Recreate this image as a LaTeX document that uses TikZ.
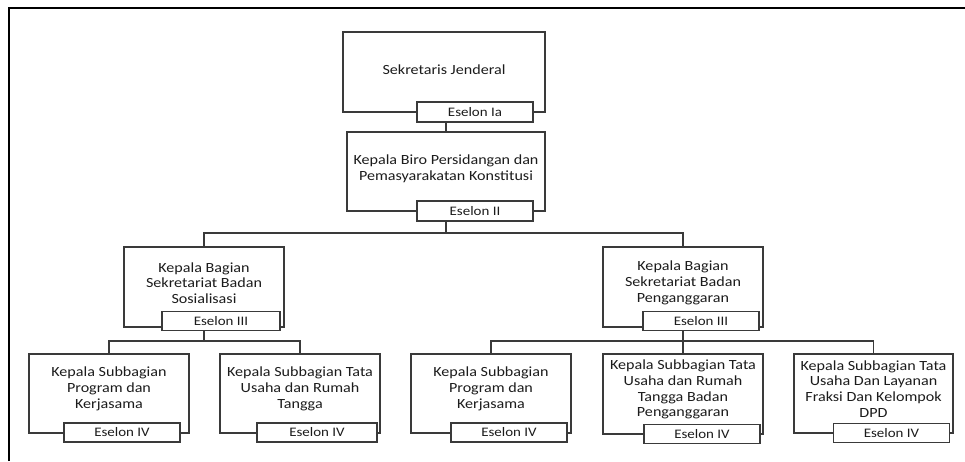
\documentclass[tikz,border=0pt]{standalone}
\usepackage{fontspec}
\setmainfont{Carlito}[FakeStretch=1.15]
\definecolor{linegray}{HTML}{3A3A3A}
\definecolor{textgray}{HTML}{1C1C1C}

\tikzset{
  orgbox/.style={draw=linegray, line width=1.1pt, minimum width=160pt,
    minimum height=80pt, inner sep=0pt},
  orgtext/.style={align=center, text=textgray, inner sep=0pt,
    font=\fontsize{14}{15.8}\selectfont},
  eselon/.style={draw=linegray, line width=1.1pt, fill=white,
    minimum width=116pt, minimum height=19pt, inner sep=0pt,
    text=textgray, font=\fontsize{13}{14}\selectfont},
  wire/.style={draw=linegray, line width=1.1pt},
}

\begin{document}
\begin{tikzpicture}[x=1pt, y=-1pt]
  \useasboundingbox[fill=white] (0,0) rectangle (965,461);

  % outer frame
  \draw[line width=2.4pt] (9,461) -- (9,8) -- (965,8);

  % level 1 and 2
  \node[orgbox, minimum width=202pt] (sj) at (444,72) {};
  \node[orgtext] (sjtxt) at ([yshift=2pt]sj.center) {Sekretaris Jenderal};
  \node[eselon, minimum height=20pt] (sjt) at (475,112) {Eselon Ia};

  \node[orgbox, minimum width=198pt, minimum height=79pt] (biro) at (446,171.5) {};
  \node[orgtext] (birotxt) at ([yshift=3pt]biro.center)
    {Kepala Biro Persidangan dan\\Pemasyarakatan Konstitusi};
  \node[eselon, minimum height=20pt] (birot) at (475,211) {Eselon II};

  % level 3
  \node[orgbox] (bgS) at (204,287) {};
  \node[orgtext] (bgStxt) at ([yshift=4pt]bgS.center)
    {Kepala Bagian\\Sekretariat Badan\\Sosialisasi};
  \node[eselon, minimum width=118pt] (bgSt) at (221,321) {Eselon III};

  \node[orgbox] (bgP) at (683,287) {};
  \node[orgtext] (bgPtxt) at ([yshift=4pt]bgP.center)
    {Kepala Bagian\\Sekretariat Badan\\Penganggaran};
  \node[eselon] (bgPt) at (701,321) {Eselon III};

  % level 4
  \node[orgbox, minimum height=79pt] (ksA) at (109,393.5) {};
  \node[orgtext] (ksAtxt) at ([yshift=4.5pt]ksA.center)
    {Kepala Subbagian\\Program dan\\Kerjasama};
  \node[eselon] (ksAt) at (122,432.5) {Eselon IV};

  \node[orgbox, minimum height=79pt] (ksB) at (300,393.5) {};
  \node[orgtext] (ksBtxt) at ([yshift=4.5pt]ksB.center)
    {Kepala Subbagian Tata\\Usaha dan Rumah\\Tangga};
  \node[eselon, minimum width=120pt] (ksBt) at (317,432.5) {Eselon IV};

  \node[orgbox, minimum height=79pt] (kpA) at (491,393.5) {};
  \node[orgtext] (kpAtxt) at ([yshift=4.5pt]kpA.center)
    {Kepala Subbagian\\Program dan\\Kerjasama};
  \node[eselon] (kpAt) at (509,432.5) {Eselon IV};

  \node[orgbox, minimum height=80pt] (kpB) at (683,394) {};
  \node[orgtext] (kpBtxt) at ([yshift=4.5pt]kpB.center)
    {Kepala Subbagian Tata\\Usaha dan Rumah\\Tangga Badan\\Penganggaran};
  \node[eselon] (kpBt) at (702,434) {Eselon IV};

  \node[orgbox, minimum width=159pt, minimum height=79pt] (kpC) at (873.5,393.5) {};
  \node[orgtext] (kpCtxt) at ([yshift=4.5pt]kpC.center)
    {Kepala Subbagian Tata\\Usaha Dan Layanan\\Fraksi Dan Kelompok\\DPD};
  \node[eselon] (kpCt) at (891.5,433) {Eselon IV};

  % connectors
  \coordinate (busTop) at (446,233);
  \coordinate (busS) at (204,341);
  \coordinate (busP) at (683,341);

  \draw[wire] (biro.north |- sjt.south) -- (biro.north);
  \draw[wire] (biro.center |- birot.south) -- (busTop);
  \draw[wire] (bgS.north) |- (busTop) -| (bgP.north);

  \draw[wire] (bgS.center |- bgSt.south) -- (busS);
  \draw[wire] (ksA.north) |- (busS) -| (ksB.north);

  \draw[wire] (bgP.center |- bgPt.south) -- (busP);
  \draw[wire] (kpA.north) |- (busP) -| (kpC.north);
  \draw[wire] (busP) -- (kpB.north);
\end{tikzpicture}
\end{document}
